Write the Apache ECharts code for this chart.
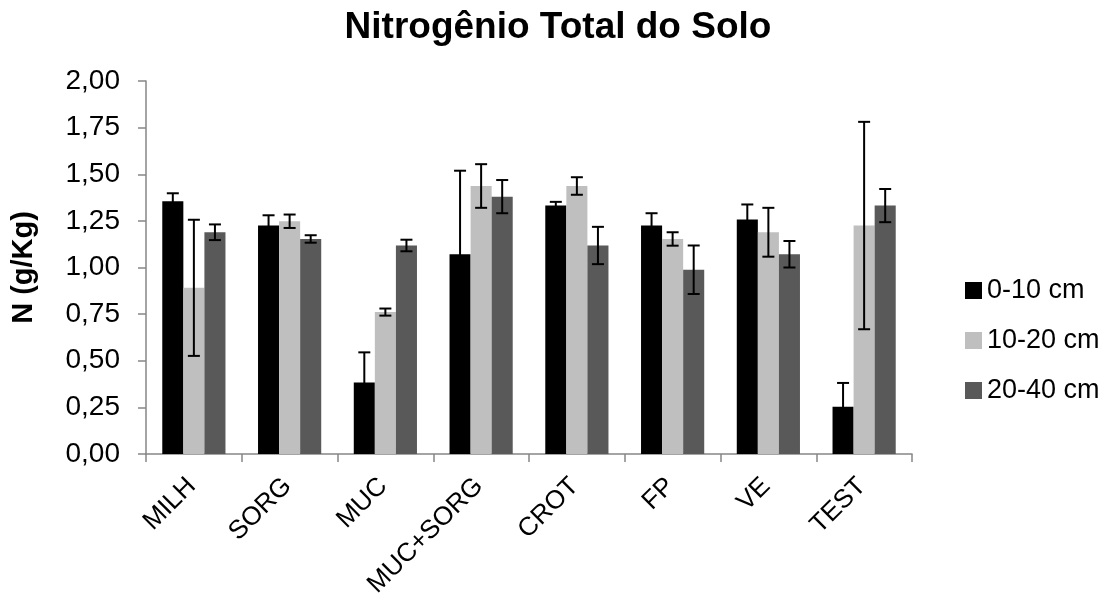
<!DOCTYPE html>
<html>
<head>
<meta charset="utf-8">
<script src="https://cdn.jsdelivr.net/npm/echarts@6.0.0/dist/echarts.min.js"></script>
<style>
  html, body { margin: 0; padding: 0; background: #fff; }
  #chart { width: 1116px; height: 597px; }
</style>
</head>
<body>
<div id="chart"></div>
<script>
const categories = ['MILH', 'SORG', 'MUC', 'MUC+SORG', 'CROT', 'FP', 'VE', 'TEST'];
const seriesNames = ['0-10 cm', '10-20 cm', '20-40 cm'];

// mean values (g/Kg)
const depth0to10 = [1.355, 1.225, 0.383, 1.071, 1.332, 1.225, 1.258, 0.253];
const depth10to20 = [0.891, 1.248, 0.761, 1.437, 1.437, 1.153, 1.189, 1.225];
const depth20to40 = [1.189, 1.153, 1.118, 1.380, 1.118, 0.988, 1.071, 1.332];

// error bar half-lengths
const err0to10 = [0.043, 0.055, 0.162, 0.448, 0.020, 0.066, 0.080, 0.128];
const err10to20 = [0.365, 0.036, 0.019, 0.117, 0.047, 0.036, 0.131, 0.556];
const err20to40 = [0.042, 0.020, 0.031, 0.089, 0.100, 0.130, 0.071, 0.089];

const yTicks = [0, 0.25, 0.5, 0.75, 1, 1.25, 1.5, 1.75, 2];

const colors = ['#000000', '#bfbfbf', '#595959'];
const FONT = 'Liberation Sans, Arial, sans-serif';
const CAT_GAP = 0.34;

const means = [depth0to10, depth10to20, depth20to40];
const errs = [err0to10, err10to20, err20to40];

function errorSeries(si) {
    return {
        type: 'custom',
        name: seriesNames[si] + ' err',
        z: 10,
        silent: true,
        encode: { x: 0, y: 1 },
        data: categories.map((c, i) => [i, means[si][i], errs[si][i]]),
        renderItem: (params, api) => {
            const idx = api.value(0);
            const v = api.value(1);
            const e = api.value(2);
            const band = api.size([1, 0])[0];
            const bw = band * (1 - CAT_GAP) / 3;
            const x = api.coord([idx, v])[0] + (si - 1) * bw;
            const yTop = api.coord([idx, v + e])[1];
            const yBot = api.coord([idx, v - e])[1];
            const cap = 6;
            const style = { stroke: '#000', lineWidth: 2 };
            return {
                type: 'group',
                children: [
                    { type: 'line', shape: { x1: x, y1: yTop, x2: x, y2: yBot }, style },
                    { type: 'line', shape: { x1: x - cap, y1: yTop, x2: x + cap, y2: yTop }, style },
                    { type: 'line', shape: { x1: x - cap, y1: yBot, x2: x + cap, y2: yBot }, style }
                ]
            };
        }
    };
}

const chart = echarts.init(document.getElementById('chart'));

const option = {
    animation: false,
    title: {
        text: 'Nitrogênio Total do Solo',
        left: 'center',
        top: 4,
        textStyle: { fontFamily: FONT, fontSize: 37, fontWeight: 'bold', color: '#000' }
    },
    legend: {
        data: seriesNames,
        orient: 'vertical',
        left: 960,
        top: 272,
        icon: 'rect',
        itemWidth: 17,
        itemHeight: 17,
        itemGap: 23,
        textStyle: { fontFamily: FONT, fontSize: 27, color: '#000', lineHeight: 27 }
    },
    grid: { left: 146, right: 204, top: 81, bottom: 143, outerBoundsMode: 'none' },
    xAxis: {
        type: 'category',
        data: categories,
        axisLine: { lineStyle: { color: '#868686', width: 1.5 } },
        axisTick: { show: true, length: 8, alignWithLabel: false, lineStyle: { color: '#868686', width: 1.5 } },
        axisLabel: {
            rotate: 45, margin: 26, padding: [0, 3, 0, 0],
            fontFamily: FONT, fontSize: 26, color: '#000', interval: 0
        }
    },
    yAxis: {
        type: 'value',
        min: 0,
        max: 2,
        interval: 0.25,
        name: 'N (g/Kg)',
        nameLocation: 'middle',
        nameGap: 108,
        nameTextStyle: { fontFamily: FONT, fontSize: 29, fontWeight: 'bold', color: '#000' },
        axisLine: { show: true, lineStyle: { color: '#868686', width: 1.5 } },
        axisTick: { show: true, length: 8, lineStyle: { color: '#868686', width: 1.5 } },
        splitLine: { show: false },
        axisLabel: {
            margin: 26,
            fontFamily: FONT,
            fontSize: 28,
            color: '#000',
            formatter: (v) => yTicks.includes(v) ? v.toFixed(2).replace('.', ',') : ''
        }
    },
    series: [
        ...seriesNames.map((name, si) => ({
            type: 'bar',
            name: name,
            data: means[si],
            barGap: '0%',
            barCategoryGap: (CAT_GAP * 100) + '%',
            itemStyle: { color: colors[si] }
        })),
        errorSeries(0),
        errorSeries(1),
        errorSeries(2)
    ]
};

chart.setOption(option);
</script>
</body>
</html>
